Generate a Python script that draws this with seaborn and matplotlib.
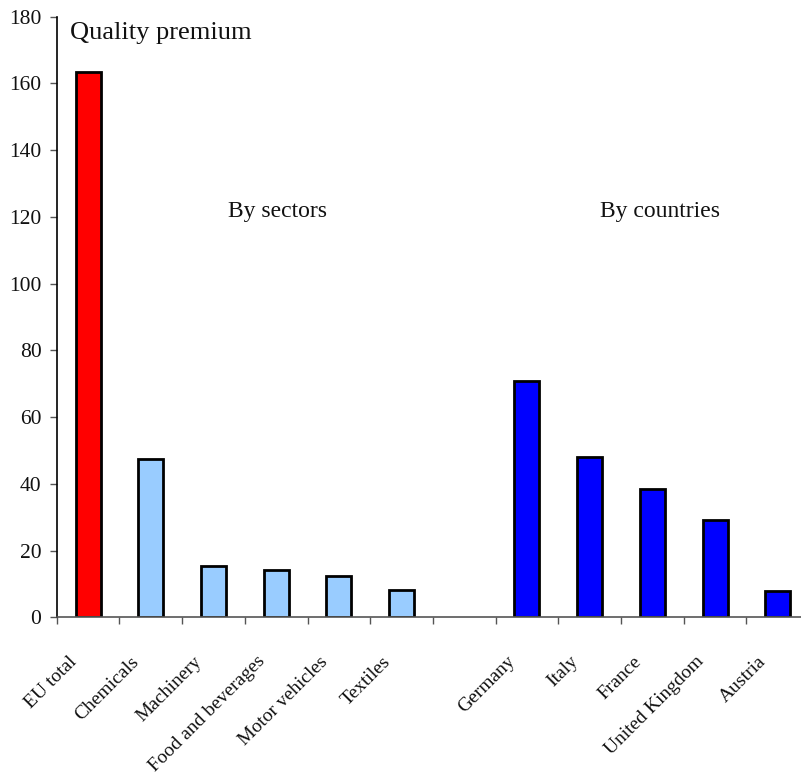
import numpy as np
import pandas as pd
import matplotlib
matplotlib.use("Agg")
import matplotlib.pyplot as plt
from matplotlib.transforms import ScaledTranslation
import seaborn as sns

# Quality premium values
sectors = ["EU total", "Chemicals", "Machinery", "Food and beverages",
           "Motor vehicles", "Textiles"]
sector_values = [163.4, 47.4, 15.3, 14.2, 12.4, 8.3]
countries = ["Germany", "Italy", "France", "United Kingdom", "Austria"]
country_values = [70.7, 48.0, 38.6, 29.1, 7.8]
yticks = list(range(0, 181, 20))

groups = ["total"] + ["sector"] * (len(sectors) - 1) + ["country"] * len(countries)
df = pd.DataFrame({
    "category": sectors + countries,
    "value": sector_values + country_values,
    "group": groups,
})
order = sectors + [""] + countries
palette = {"total": "#FF0000", "sector": "#99CCFF", "country": "#0000FF"}

sns.set_theme(style="white")
plt.rcParams["font.family"] = ["Liberation Serif", "DejaVu Serif"]

fig = plt.figure(figsize=(8.01, 7.77), dpi=100)
ax = fig.add_axes([0.0708, 0.2055, 0.9393, 0.773])

sns.barplot(data=df, x="category", y="value", hue="group", order=order,
            palette=palette, width=0.4, dodge=False, saturation=1,
            edgecolor="black", linewidth=2.0, legend=False, ax=ax)

ax.set_xlim(-0.5, len(order) - 0.5)
ax.set_ylim(0, 180)
ax.set_yticks(yticks)
ax.set_yticklabels([str(v) for v in yticks], fontsize=15.5, color="#111111")
ax.set_xlabel("")
ax.set_ylabel("")

# tick marks between categories, labels under category centres
ax.set_xticks(np.arange(-0.5, len(order), 1.0))
ax.set_xticklabels([])
ax.set_xticks(np.arange(len(order)), minor=True)
ax.set_xticklabels(order, minor=True, rotation=45, ha="right",
                   va="center", rotation_mode="anchor", fontsize=14,
                   color="#111111")
ax.tick_params(axis="x", which="major", direction="out", length=5,
               width=1, color="#555555", bottom=True)
ax.tick_params(axis="x", which="minor", length=0, pad=30)
ax.tick_params(axis="y", direction="out", length=5, width=1,
               color="#555555", pad=6, left=True)
shift = ScaledTranslation(-14 / 100, 0, fig.dpi_scale_trans)
for lbl in ax.get_xticklabels(minor=True):
    lbl.set_transform(lbl.get_transform() + shift)

for side in ["top", "right"]:
    ax.spines[side].set_visible(False)
ax.spines["left"].set_color("black")
ax.spines["left"].set_linewidth(1.2)
ax.spines["bottom"].set_color("#555555")
ax.spines["bottom"].set_linewidth(1.2)

ax.text(0.0177, 0.963, "Quality premium", transform=ax.transAxes,
        fontsize=19, va="baseline", ha="left", color="#111111")
ax.text(0.2273, 0.666, "By sectors", transform=ax.transAxes,
        fontsize=17, va="baseline", ha="left", color="#111111")
ax.text(0.7221, 0.667, "By countries", transform=ax.transAxes,
        fontsize=17, va="baseline", ha="left", color="#111111")

fig.savefig("out.png", dpi=100)
